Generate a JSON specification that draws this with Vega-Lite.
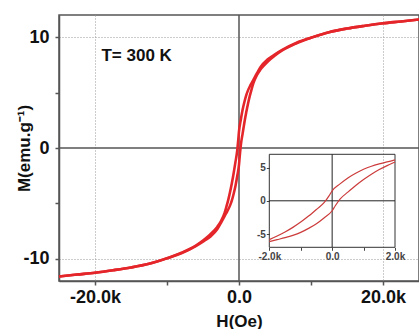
{
  "$schema": "https://vega.github.io/schema/vega-lite/v6.json",
  "autosize": "none",
  "width": 360,
  "height": 266,
  "padding": {"left": 59, "top": 15, "right": 0, "bottom": 48},
  "background": "white",
  "config": {"view": {"stroke": "#555", "strokeWidth": 1.5}, "font": "Liberation Sans"},
  "datasets": {
    "loop": [
      {"branch": "up", "H": -25000, "M": -11.6}, {"branch": "up", "H": -22500, "M": -11.42}, {"branch": "up", "H": -20000, "M": -11.25},
      {"branch": "up", "H": -17500, "M": -11.03}, {"branch": "up", "H": -15000, "M": -10.78}, {"branch": "up", "H": -12500, "M": -10.45},
      {"branch": "up", "H": -10000, "M": -9.95}, {"branch": "up", "H": -8000, "M": -9.45}, {"branch": "up", "H": -6000, "M": -8.8},
      {"branch": "up", "H": -5000, "M": -8.35}, {"branch": "up", "H": -4000, "M": -7.8}, {"branch": "up", "H": -3000, "M": -7.1},
      {"branch": "up", "H": -2500, "M": -6.6}, {"branch": "up", "H": -2000, "M": -5.85}, {"branch": "up", "H": -1750, "M": -5.3},
      {"branch": "up", "H": -1500, "M": -4.7}, {"branch": "up", "H": -1250, "M": -4.0}, {"branch": "up", "H": -1000, "M": -3.2},
      {"branch": "up", "H": -750, "M": -2.3}, {"branch": "up", "H": -500, "M": -1.3}, {"branch": "up", "H": -250, "M": -0.25},
      {"branch": "up", "H": -100, "M": 0.75}, {"branch": "up", "H": 0, "M": 1.5}, {"branch": "up", "H": 250, "M": 2.55},
      {"branch": "up", "H": 500, "M": 3.45}, {"branch": "up", "H": 750, "M": 4.15}, {"branch": "up", "H": 1000, "M": 4.75},
      {"branch": "up", "H": 1250, "M": 5.2}, {"branch": "up", "H": 1500, "M": 5.55}, {"branch": "up", "H": 1750, "M": 5.85},
      {"branch": "up", "H": 2000, "M": 6.15}, {"branch": "up", "H": 2500, "M": 6.75}, {"branch": "up", "H": 3000, "M": 7.3},
      {"branch": "up", "H": 4000, "M": 8.0}, {"branch": "up", "H": 5000, "M": 8.45}, {"branch": "up", "H": 6000, "M": 8.85},
      {"branch": "up", "H": 8000, "M": 9.5}, {"branch": "up", "H": 10000, "M": 9.95}, {"branch": "up", "H": 12500, "M": 10.45},
      {"branch": "up", "H": 15000, "M": 10.78}, {"branch": "up", "H": 17500, "M": 11.03}, {"branch": "up", "H": 20000, "M": 11.25},
      {"branch": "up", "H": 22500, "M": 11.42}, {"branch": "up", "H": 25000, "M": 11.6},
      {"branch": "down", "H": -25000, "M": -11.6}, {"branch": "down", "H": -22500, "M": -11.42}, {"branch": "down", "H": -20000, "M": -11.25},
      {"branch": "down", "H": -17500, "M": -11.03}, {"branch": "down", "H": -15000, "M": -10.78}, {"branch": "down", "H": -12500, "M": -10.45},
      {"branch": "down", "H": -10000, "M": -9.95}, {"branch": "down", "H": -8000, "M": -9.5}, {"branch": "down", "H": -6000, "M": -8.85},
      {"branch": "down", "H": -5000, "M": -8.45}, {"branch": "down", "H": -4000, "M": -8.0}, {"branch": "down", "H": -3000, "M": -7.3},
      {"branch": "down", "H": -2500, "M": -6.75}, {"branch": "down", "H": -2000, "M": -6.15}, {"branch": "down", "H": -1750, "M": -5.85},
      {"branch": "down", "H": -1500, "M": -5.55}, {"branch": "down", "H": -1250, "M": -5.2}, {"branch": "down", "H": -1000, "M": -4.75},
      {"branch": "down", "H": -750, "M": -4.15}, {"branch": "down", "H": -500, "M": -3.45}, {"branch": "down", "H": -250, "M": -2.55},
      {"branch": "down", "H": 0, "M": -1.5}, {"branch": "down", "H": 100, "M": -0.75}, {"branch": "down", "H": 250, "M": 0.25},
      {"branch": "down", "H": 500, "M": 1.3}, {"branch": "down", "H": 750, "M": 2.3}, {"branch": "down", "H": 1000, "M": 3.2},
      {"branch": "down", "H": 1250, "M": 4.0}, {"branch": "down", "H": 1500, "M": 4.7}, {"branch": "down", "H": 1750, "M": 5.3},
      {"branch": "down", "H": 2000, "M": 5.85}, {"branch": "down", "H": 2500, "M": 6.6}, {"branch": "down", "H": 3000, "M": 7.1},
      {"branch": "down", "H": 4000, "M": 7.8}, {"branch": "down", "H": 5000, "M": 8.35}, {"branch": "down", "H": 6000, "M": 8.8},
      {"branch": "down", "H": 8000, "M": 9.45}, {"branch": "down", "H": 10000, "M": 9.95}, {"branch": "down", "H": 12500, "M": 10.45},
      {"branch": "down", "H": 15000, "M": 10.78}, {"branch": "down", "H": 17500, "M": 11.03}, {"branch": "down", "H": 20000, "M": 11.25},
      {"branch": "down", "H": 22500, "M": 11.42}, {"branch": "down", "H": 25000, "M": 11.6}
    ],
    "label": [{"H": -19100, "M": 8.3, "t": "T= 300 K"}],
    "zero": [{"v": 0}],
    "frame": [{"x1": -2000, "x2": 2000, "y1": -7, "y2": 7, "v": 0}]
  },
  "layer": [
    {
      "layer": [
        {
          "data": {"name": "zero"},
          "mark": {"type": "rule", "color": "#555", "strokeWidth": 1.5},
          "encoding": {
            "x": {
              "field": "v", "type": "quantitative",
              "scale": {"domain": [-25000, 25000], "nice": false, "zero": false},
              "axis": {
                "orient": "bottom",
                "values": [-20000, -10000, 0, 10000, 20000],
                "labelExpr": "abs(datum.value) == 10000 ? '' : (datum.value == 0 ? '0.0' : (datum.value < 0 ? '-' : '') + format(abs(datum.value) / 1000, '.1f') + 'k')",
                "labelFont": "Liberation Sans", "labelFontWeight": "bold", "labelFontSize": 18, "labelColor": "#111",
                "labelPadding": 3,
                "tickColor": "#555", "tickSize": 4, "tickWidth": 1.5,
                "domainColor": "#555", "domainWidth": 1.5,
                "grid": true, "gridDash": [1, 2], "gridColor": "#999", "gridWidth": 1,
                "gridOpacity": {"condition": {"test": "abs(datum.value) == 10000 || datum.value == 0", "value": 0}, "value": 1},
                "title": "H(Oe)", "titleFont": "Liberation Sans", "titleFontWeight": "bold", "titleFontSize": 17, "titleColor": "#111",
                "titleBaseline": "alphabetic", "titleY": 45
              }
            }
          }
        },
        {
          "data": {"name": "zero"},
          "mark": {"type": "rule", "color": "#555", "strokeWidth": 1.5},
          "encoding": {
            "y": {
              "field": "v", "type": "quantitative",
              "scale": {"domain": [-12, 12], "nice": false, "zero": false},
              "axis": {
                "orient": "left",
                "values": [-10, -5, 0, 5, 10],
                "labelExpr": "abs(datum.value) == 5 ? '' : (datum.value < 0 ? '-' : '') + format(abs(datum.value), 'd')",
                "labelFont": "Liberation Sans", "labelFontWeight": "bold", "labelFontSize": 18, "labelColor": "#111",
                "labelPadding": 6,
                "tickColor": "#555", "tickSize": 4, "tickWidth": 1.5,
                "domainColor": "#555", "domainWidth": 1.5,
                "grid": true, "gridDash": [1, 2], "gridColor": "#999", "gridWidth": 1,
                "gridOpacity": {"condition": {"test": "abs(datum.value) == 5 || datum.value == 0", "value": 0}, "value": 1},
                "title": "M(emu.g⁻¹)", "titleFont": "Liberation Sans", "titleFontWeight": "bold", "titleFontSize": 17, "titleColor": "#111",
                "titleX": -35, "titleY": 133, "titleAlign": "center", "titleBaseline": "middle", "titleAngle": -90
              }
            }
          }
        },
        {
          "data": {"name": "loop"},
          "mark": {"type": "line", "color": "#e4262b", "strokeWidth": 2.6, "interpolate": "monotone"},
          "encoding": {
            "x": {"field": "H", "type": "quantitative"},
            "y": {"field": "M", "type": "quantitative"},
            "detail": {"field": "branch"}
          }
        },
        {
          "data": {"name": "label"},
          "mark": {"type": "text", "align": "left", "baseline": "middle", "font": "Liberation Sans", "fontWeight": "bold", "fontSize": 17, "color": "#111"},
          "encoding": {
            "x": {"field": "H", "type": "quantitative"},
            "y": {"field": "M", "type": "quantitative"},
            "text": {"field": "t"}
          }
        }
      ]
    },
    {
      "layer": [
        {
          "data": {"name": "frame"},
          "mark": {"type": "rect", "fill": null, "fillOpacity": 0, "stroke": "#333", "strokeWidth": 1},
          "encoding": {
            "x": {
              "field": "x1", "type": "quantitative",
              "scale": {"domain": [-2000, 2000], "nice": false, "zero": false, "range": [210.3, 336]},
              "axis": {
                "orient": "bottom", "offset": -33.7,
                "values": [-2000, -1000, 0, 1000, 2000],
                "labelExpr": "abs(datum.value) == 1000 ? '' : (datum.value == 0 ? '0.0' : (datum.value < 0 ? '-' : '') + format(abs(datum.value) / 1000, '.1f') + 'k')",
                "labelFont": "Liberation Sans", "labelFontWeight": "bold", "labelFontSize": 10, "labelColor": "#444",
                "labelPadding": 1, "labelFlush": false, "labelOverlap": false,
                "tickColor": "#444", "tickSize": 3, "tickWidth": 1,
                "domain": false, "grid": false, "title": null
              }
            },
            "x2": {"field": "x2"},
            "y": {
              "field": "y1", "type": "quantitative",
              "scale": {"domain": [-7, 7], "nice": false, "zero": false, "range": [232.3, 139.3]},
              "axis": {
                "orient": "left", "offset": -210.3,
                "values": [-5, 0, 5],
                "labelExpr": "(datum.value < 0 ? '-' : '') + format(abs(datum.value), 'd')",
                "labelFont": "Liberation Sans", "labelFontWeight": "bold", "labelFontSize": 10, "labelColor": "#444",
                "labelPadding": 1,
                "tickColor": "#444", "tickSize": 3, "tickWidth": 1,
                "domain": false, "grid": false, "title": null
              }
            },
            "y2": {"field": "y2"}
          }
        },
        {
          "data": {"name": "frame"},
          "mark": {"type": "rule", "color": "#222", "strokeWidth": 1},
          "encoding": {
            "x": {"field": "v", "type": "quantitative"},
            "y": {"field": "y1", "type": "quantitative"},
            "y2": {"field": "y2"}
          }
        },
        {
          "data": {"name": "frame"},
          "mark": {"type": "rule", "color": "#222", "strokeWidth": 1},
          "encoding": {
            "y": {"field": "v", "type": "quantitative"},
            "x": {"field": "x1", "type": "quantitative"},
            "x2": {"field": "x2"}
          }
        },
        {
          "data": {"name": "loop"},
          "transform": [{"filter": "datum.H >= -2000 && datum.H <= 2000"}],
          "mark": {"type": "line", "color": "#cc3b3b", "strokeWidth": 1.2, "interpolate": "monotone"},
          "encoding": {
            "x": {"field": "H", "type": "quantitative"},
            "y": {"field": "M", "type": "quantitative"},
            "detail": {"field": "branch"}
          }
        }
      ]
    }
  ],
  "resolve": {"scale": {"x": "independent", "y": "independent"}, "axis": {"x": "independent", "y": "independent"}}
}
